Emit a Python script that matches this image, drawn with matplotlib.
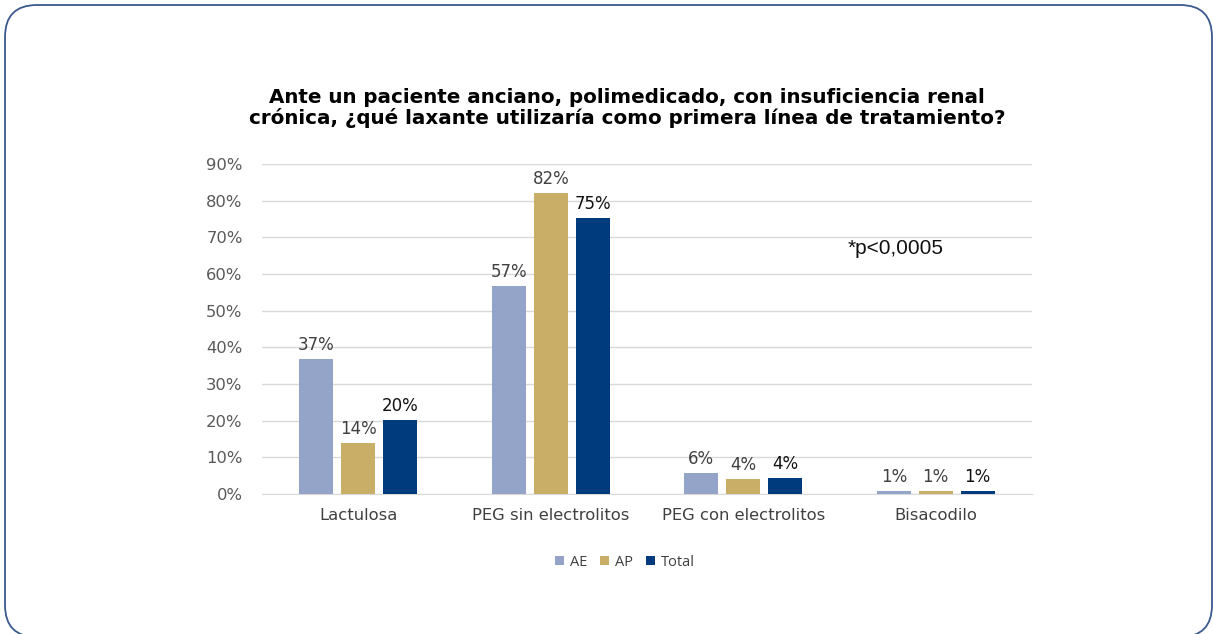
import matplotlib.pyplot as plt
import numpy as np
from matplotlib.patches import FancyBboxPatch

# ----------------------------------------------------
# DATA
# ----------------------------------------------------
categories = ["Lactulosa", "PEG sin electrolitos", "PEG con electrolitos", "Bisacodilo"]
series_names = ["AE", "AP", "Total"]
ae_values = [36.7, 56.7, 5.8, 0.8]
ap_values = [13.8, 82.0, 4.0, 0.8]
total_values = [20.2, 75.3, 4.4, 0.8]
y_ticks = [0, 10, 20, 30, 40, 50, 60, 70, 80, 90]

TITLE = ("Ante un paciente anciano, polimedicado, con insuficiencia renal\n"
         "crónica, ¿qué laxante utilizaría como primera línea de tratamiento?")
NOTE = "*p<0,0005"

COLORS = ["#94A4C8", "#C9AE68", "#003B7E"]
LABEL_COLORS = ["#404040", "#404040", "#111111"]

W, H = 1213, 634


def main():
    fig = plt.figure(figsize=(W / 100, H / 100), dpi=100)
    fig.patch.set_facecolor("white")

    # rounded frame around the slide (pixel coordinates, y up)
    bg = fig.add_axes([0, 0, 1, 1])
    bg.set_xlim(0, W)
    bg.set_ylim(0, H)
    bg.axis("off")
    frame = FancyBboxPatch((5, H - 637), 1212 - 5, 637 - 5,
                           boxstyle="round,pad=0,rounding_size=32",
                           fill=False, edgecolor="#3A5A8C", linewidth=1.3,
                           clip_on=False)
    bg.add_patch(frame)

    ax = fig.add_axes([262 / W, 1 - 494 / H, (1032 - 262) / W, (494 - 164) / H])

    x = np.arange(len(categories))
    width = 0.177
    step = 0.218
    all_series = [ae_values, ap_values, total_values]

    for i, (vals, name) in enumerate(zip(all_series, series_names)):
        pos = x + (i - 1) * step
        ax.bar(pos, vals, width=width, color=COLORS[i], label=name, zorder=3)
        for px, v in zip(pos, vals):
            ax.text(px, v + 1.4, f"{v:.0f}%", ha="center", va="bottom",
                    fontsize=12, color=LABEL_COLORS[i], family="DejaVu Sans")

    ax.set_xlim(-0.5, len(categories) - 0.5)
    ax.set_ylim(0, 90)
    ax.set_yticks(y_ticks)
    ax.set_yticklabels([f"{t}%" for t in y_ticks])
    ax.set_xticks(x)
    ax.set_xticklabels(categories)
    ax.grid(axis="y", color="#D9D9D9", linewidth=1, zorder=0)
    for s in ["top", "right", "left"]:
        ax.spines[s].set_visible(False)
    ax.spines["bottom"].set_color("#D9D9D9")
    ax.tick_params(axis="both", length=0, labelsize=11.8, labelcolor="#595959")
    ax.tick_params(axis="y", pad=14)
    ax.tick_params(axis="x", pad=10, labelcolor="#404040")

    fig.text(627 / W, 1 - 108 / H, TITLE, ha="center", va="center",
             fontsize=14.3, fontweight="bold", family="DejaVu Sans",
             linespacing=1.05)

    fig.text(848 / W, 1 - 249 / H, NOTE, ha="left", va="center",
             fontsize=15, family="Liberation Sans", color="#111111")

    leg = fig.legend(loc="center", bbox_to_anchor=(625 / W, 1 - 562 / H),
                     ncol=3, frameon=False, handlelength=0.6,
                     handleheight=0.6, handletextpad=0.4, columnspacing=0.9,
                     prop={"family": "Open Sans", "size": 10.5})
    for t in leg.get_texts():
        t.set_color("#404040")

    plt.savefig("out.png", dpi=100)
    plt.close()


if __name__ == "__main__":
    main()
